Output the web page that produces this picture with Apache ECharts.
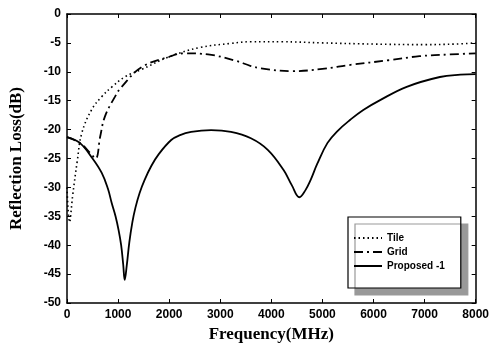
<!DOCTYPE html>
<html>
<head>
<meta charset="utf-8">
<script src="https://cdn.jsdelivr.net/npm/echarts@6/dist/echarts.min.js"></script>
<style>
  html, body { margin: 0; padding: 0; background: #fff; }
  #main { width: 492px; height: 349px; }
</style>
</head>
<body>
<div id="main"></div>
<script>
// values: [frequency MHz, reflection loss dB]
const tile = [
  [0, -30], [50, -36], [110, -31.5], [200, -25.5], [290, -20.6], [480, -16.6],
  [680, -14.3], [880, -12.6], [1130, -10.9], [1460, -9.6], [2000, -7.4],
  [2600, -5.8], [3200, -5.1], [3600, -4.8], [4200, -4.8], [5000, -5.0],
  [6000, -5.2], [7000, -5.3], [7600, -5.2], [8000, -5.0]
];
const grid = [
  [0, -21.3], [250, -22.3], [450, -24], [560, -25], [650, -21.2],
  [740, -17.8], [940, -14.3], [1070, -12.6], [1460, -9.2], [2000, -7.4],
  [2300, -6.8], [2760, -7.0], [3270, -8.0], [3600, -9.0], [3800, -9.4],
  [4400, -9.9], [5000, -9.5], [5550, -8.8], [6300, -8.0], [6900, -7.3],
  [7500, -7.0], [8000, -6.8]
];
const proposed = [
  [0, -21.3], [250, -22.3], [500, -25], [680, -27.5], [800, -30.2],
  [875, -32.7], [950, -35], [1010, -37.4], [1060, -40], [1100, -43.3],
  [1130, -46], [1170, -43.5], [1220, -39.5], [1280, -36], [1340, -33.5],
  [1420, -31], [1520, -28.7], [1650, -26.3], [1800, -24.2], [2040, -21.8],
  [2200, -21], [2430, -20.4], [2820, -20.1], [3210, -20.4], [3600, -21.5],
  [3930, -23.5], [4240, -27], [4400, -29.6], [4550, -31.7], [4660, -30.6],
  [4770, -28.7], [4900, -25.9], [5100, -22.3], [5300, -20.2], [5545, -18.3],
  [5800, -16.6], [6130, -14.9], [6650, -12.6], [7300, -10.9], [7700, -10.5],
  [8000, -10.4]
];
const seriesNames = ["Tile", "Grid", "Proposed -1"];

const tickFont = { fontFamily: "Liberation Sans", fontWeight: "bold", fontSize: 12, color: "#000" };
const titleFont = { fontFamily: "Liberation Serif", fontWeight: "bold", fontSize: 17, color: "#000" };
const black = { color: "#000", width: 1.5 };
const tick = { inside: true, length: 4, lineStyle: { color: "#000" } };

const chart = echarts.init(document.getElementById("main"));

const option = {
  animation: false,
  backgroundColor: "#fff",
  grid: { left: 65, right: 16, top: 14, bottom: 46 },
  legend: {
    data: seriesNames,
    orient: "vertical",
    left: 348,
    top: 217,
    padding: [16, 16, 17, 5],
    itemGap: 4,
    itemWidth: 28,
    itemHeight: 10,
    itemStyle: { opacity: 0 },
    backgroundColor: "#fff",
    borderColor: "#000",
    borderWidth: 1.2,
    shadowColor: "#999",
    shadowBlur: 0,
    shadowOffsetX: 7,
    shadowOffsetY: 7,
    textStyle: { fontFamily: "Liberation Sans", fontWeight: "bold", fontSize: 10, color: "#000" }
  },
  xAxis: [
    {
      type: "value",
      min: 0,
      max: 8000,
      interval: 1000,
      name: "Frequency(MHz)",
      nameLocation: "middle",
      nameGap: 23,
      nameTextStyle: titleFont,
      axisLine: { onZero: false, lineStyle: black },
      axisTick: tick,
      axisLabel: Object.assign({ margin: 6, formatter: (v) => String(v) }, tickFont),
      splitLine: { show: false }
    },
    {
      type: "value",
      position: "top",
      min: 0,
      max: 8000,
      interval: 1000,
      axisLine: { onZero: false, lineStyle: black },
      axisTick: tick,
      axisLabel: { show: false },
      splitLine: { show: false }
    }
  ],
  yAxis: [
    {
      type: "value",
      min: -50,
      max: 0,
      interval: 5,
      name: "Reflection Loss(dB)",
      nameLocation: "middle",
      nameGap: 42,
      nameTextStyle: titleFont,
      axisLine: { onZero: false, lineStyle: black },
      axisTick: tick,
      axisLabel: Object.assign({ margin: 6 }, tickFont),
      splitLine: { show: false }
    },
    {
      type: "value",
      position: "right",
      min: -50,
      max: 0,
      interval: 5,
      axisLine: { onZero: false, lineStyle: black },
      axisTick: tick,
      axisLabel: { show: false },
      splitLine: { show: false }
    }
  ],
  series: [
    {
      name: seriesNames[0],
      type: "line",
      data: tile,
      smooth: 0.4,
      symbol: "none",
      lineStyle: { color: "#000", width: 1.6, type: [1.5, 3] },
      itemStyle: { color: "#000" }
    },
    {
      name: seriesNames[1],
      type: "line",
      data: grid,
      smooth: 0.4,
      symbol: "none",
      lineStyle: { color: "#000", width: 1.8, type: [9, 4, 2, 4] },
      itemStyle: { color: "#000" }
    },
    {
      name: seriesNames[2],
      type: "line",
      data: proposed,
      smooth: 0.4,
      symbol: "none",
      lineStyle: { color: "#000", width: 1.8 },
      itemStyle: { color: "#000" }
    }
  ]
};

chart.setOption(option);
</script>
</body>
</html>
